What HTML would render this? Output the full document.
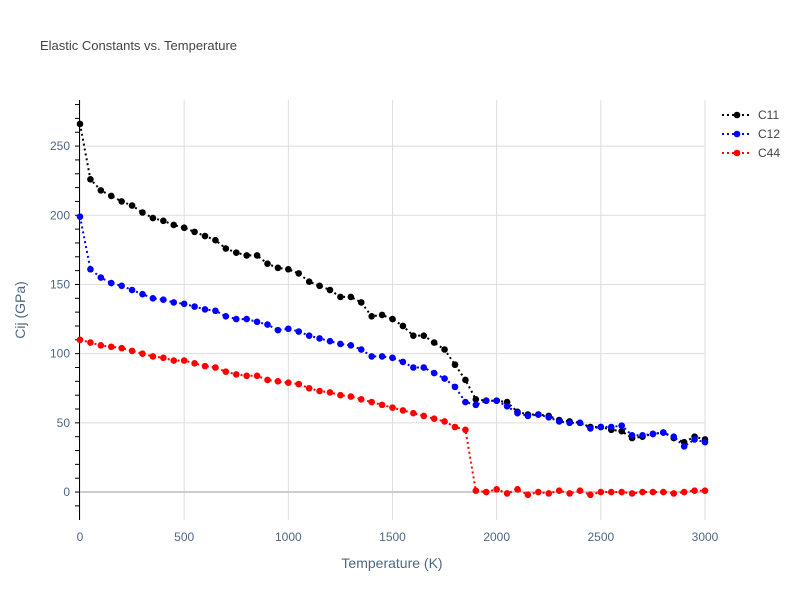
<!DOCTYPE html>
<html><head><meta charset="utf-8"><style>
body{margin:0;background:#fff;font-family:"Liberation Sans",sans-serif}
svg text{font-family:"Liberation Sans",sans-serif}
</style></head><body>
<svg id="chart" width="800" height="600">
<text x="40" y="50" font-size="13" fill="#444">Elastic Constants vs. Temperature</text>
<g id="grid"></g><g id="axes"></g><g id="series"></g><g id="legend"></g>
<text x="392" y="568" font-size="14" fill="#506784" text-anchor="middle">Temperature (K)</text>
<text transform="translate(25,310) rotate(-90)" font-size="14" fill="#506784" text-anchor="middle">Cij (GPa)</text>
</svg>
<script>
const temps = [];
for (let t = 0; t <= 3000; t += 50) temps.push(t);
const c11 = [266,226,218,214,210,207,202,198,196,193,191,188,185,182,176,173,171,171,165,162,161,158,152,149,146,141,141,137,127,128,125,120,113,113,108,103,92,81,67,66,66,65,58,56,56,55,52,51,50,47,47,45,44,39,40,42,43,39,36,40,38];
const c12 = [199,161,155,151,149,146,143,140,139,137,136,134,132,131,127,125,125,123,121,117,118,116,113,111,109,107,106,103,98,98,97,94,90,90,86,82,76,65,63,66,66,62,57,55,56,54,51,50,50,46,47,47,48,41,41,42,43,40,33,38,36];
const c44 = [110,108,106,105,104,102,100,98,97,95,95,93,91,90,87,85,84,84,81,80,79,78,75,73,72,70,69,67,65,63,61,59,57,55,53,51,47,45,1,0,2,-1,2,-2,0,-1,1,-1,1,-2,0,0,0,-1,0,0,0,-1,0,1,1];
const xTicks = [0,500,1000,1500,2000,2500,3000];
const yTicks = [0,50,100,150,200,250];
const seriesNames = ["C11","C12","C44"];
const seriesColors = ["#000000","#0000ff","#ff0000"];

const NS="http://www.w3.org/2000/svg";
const X0=80,X1=705,Y0=520,Y1=100,xmin=0,xmax=3000,ymin=-20.2,ymax=283.3;
const sx=v=>X0+(v-xmin)/(xmax-xmin)*(X1-X0);
const sy=v=>Y0-(v-ymin)/(ymax-ymin)*(Y0-Y1);
function mk(tag,attrs,parent){const e=document.createElementNS(NS,tag);for(const k in attrs)e.setAttribute(k,attrs[k]);parent.appendChild(e);return e;}
const grid=document.getElementById('grid'),axes=document.getElementById('axes'),ser=document.getElementById('series'),leg=document.getElementById('legend');
xTicks.forEach(t=>{
  const l=mk('line',{x1:sx(t),x2:sx(t),y1:Y1,y2:Y0,stroke:'#ddd','stroke-width':1},grid);
  
  
  const tx=mk('text',{x:sx(t),y:541,'font-size':12,fill:'#506784','text-anchor':'middle'},axes);
  tx.textContent=t;
  
  
});
yTicks.forEach(t=>{
  const l=mk('line',{x1:X0,x2:X1,y1:sy(t),y2:sy(t),stroke:t===0?'#ccc':'#ddd','stroke-width':t===0?2:1},grid);
  
  
  const tx=mk('text',{x:70,y:sy(t)+4,'font-size':12,fill:'#506784','text-anchor':'end'},axes);
  tx.textContent=t;
  
  
});
for(let v=-10;v<=280;v+=10){
  const l=mk('line',{x1:X0-5,x2:X0-1,y1:sy(v),y2:sy(v),stroke:'#000','stroke-width':1},axes);
  
  
}
const ax=mk('line',{x1:X0-0.5,x2:X0-0.5,y1:Y1,y2:Y0,stroke:'#000','stroke-width':1},axes);


[c11,c12,c44].forEach((arr,i)=>{
  const g=mk('g',{},ser);
  
  
  const p=mk('polyline',{points:arr.map((v,j)=>sx(temps[j])+','+sy(v)).join(' '),fill:'none',stroke:seriesColors[i],'stroke-width':2,'stroke-dasharray':'2,3'},g);
  
  
  arr.forEach((v,j)=>{
    const c=mk('circle',{cx:sx(temps[j]),cy:sy(v),r:3.3,fill:seriesColors[i]},g);
    
    
  });
  const ly=115+i*19;
  const lg=mk('g',{},leg);
  
  
  mk('line',{x1:722,x2:752,y1:ly,y2:ly,stroke:seriesColors[i],'stroke-width':2,'stroke-dasharray':'2,3'},lg);
  mk('circle',{cx:737,cy:ly,r:3.3,fill:seriesColors[i]},lg);
  const t=mk('text',{x:758,y:ly+4,'font-size':12,fill:'#444'},lg);
  t.textContent=seriesNames[i];
});
</script>
</body></html>
